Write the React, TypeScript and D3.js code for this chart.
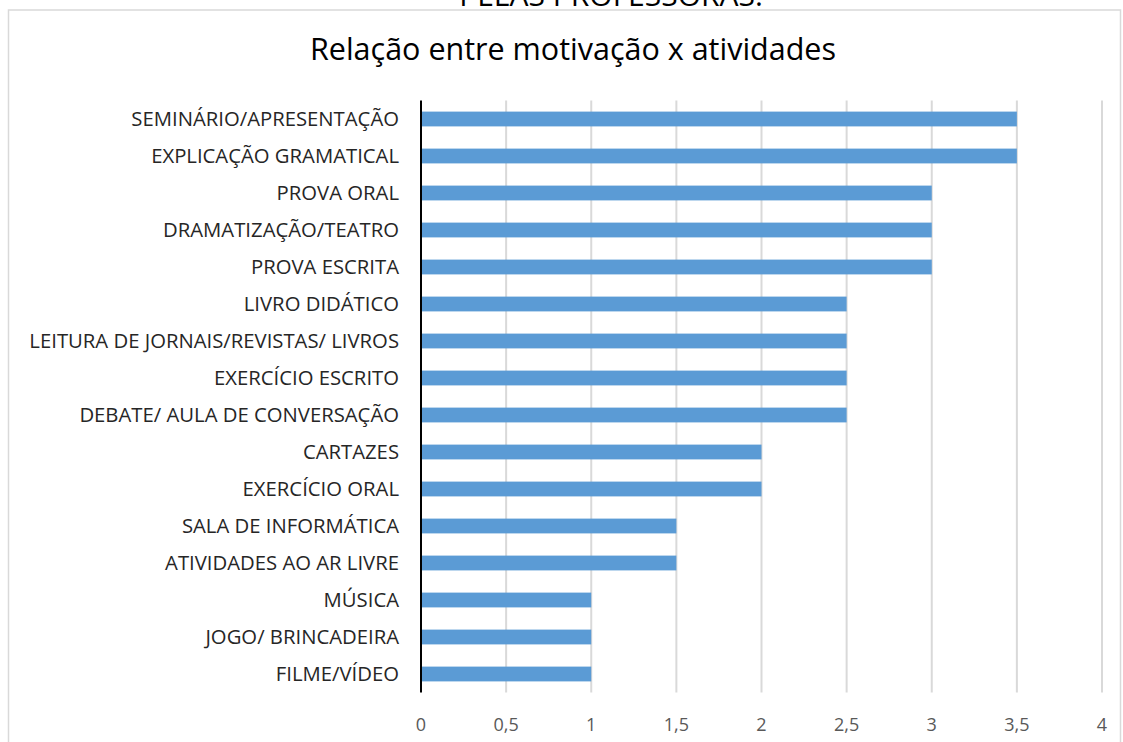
import React from "react";
import * as d3 from "d3";

const categories = [
  "SEMINÁRIO/APRESENTAÇÃO",
  "EXPLICAÇÃO GRAMATICAL",
  "PROVA ORAL",
  "DRAMATIZAÇÃO/TEATRO",
  "PROVA ESCRITA",
  "LIVRO DIDÁTICO",
  "LEITURA DE JORNAIS/REVISTAS/ LIVROS",
  "EXERCÍCIO ESCRITO",
  "DEBATE/ AULA DE CONVERSAÇÃO",
  "CARTAZES",
  "EXERCÍCIO ORAL",
  "SALA DE INFORMÁTICA",
  "ATIVIDADES AO AR LIVRE",
  "MÚSICA",
  "JOGO/ BRINCADEIRA",
  "FILME/VÍDEO",
];
const values = [3.5, 3.5, 3, 3, 3, 2.5, 2.5, 2.5, 2.5, 2, 2, 1.5, 1.5, 1, 1, 1];
const ticks = [0, 0.5, 1, 1.5, 2, 2.5, 3, 3.5, 4];
const title = "Relação entre motivação x atividades";
const topText = "PELAS PROFESSORAS.";

const W = 1123;
const H = 742;
const font = "'Open Sans', sans-serif";

export default function App() {
  const x = d3.scaleLinear().domain([0, 4]).range([421, 1102]);
  const y = d3.scaleBand<string>().domain(categories).range([100.5, 692.5]).paddingInner(0.6).paddingOuter(0.3);
  const fmt = (v: number) => String(v).replace(".", ",");
  return (
    <svg width={W} height={H} style={{ position: "absolute", left: 0, top: 0, background: "#fff" }} fontFamily={font}>
      <rect x={0} y={0} width={W} height={H} fill="#fff" />
      <text x={611} y={6} textAnchor="middle" fontSize={30} fill="#000">{topText}</text>
      <rect x={8.5} y={10} width={1112} height={760} fill="#fff" stroke="#d9d9d9" strokeWidth={1.5} />
      <text x={573} y={60} textAnchor="middle" fontSize={30.5} fill="#000">{title}</text>
      {ticks.slice(1).map((t) => (
        <line key={t} x1={x(t)} x2={x(t)} y1={100.5} y2={692.5} stroke="#d9d9d9" strokeWidth={2} />
      ))}
      {categories.map((c, i) => (
        <rect key={c} x={x(0)} y={y(c)!} width={x(values[i]) - x(0)} height={y.bandwidth()} fill="#5b9bd5" />
      ))}
      <line x1={x(0)} x2={x(0)} y1={100.5} y2={692.5} stroke="#000" strokeWidth={2} />
      {categories.map((c) => (
        <text key={c} x={399} y={y(c)! + y.bandwidth() / 2} dy="0.36em" textAnchor="end" fontSize={20.3} fill="#262626">{c}</text>
      ))}
      {ticks.map((t) => (
        <text key={t} x={x(t)} y={725} dy="0.36em" textAnchor="middle" fontSize={18} fill="#595959">{fmt(t)}</text>
      ))}
    </svg>
  );
}
